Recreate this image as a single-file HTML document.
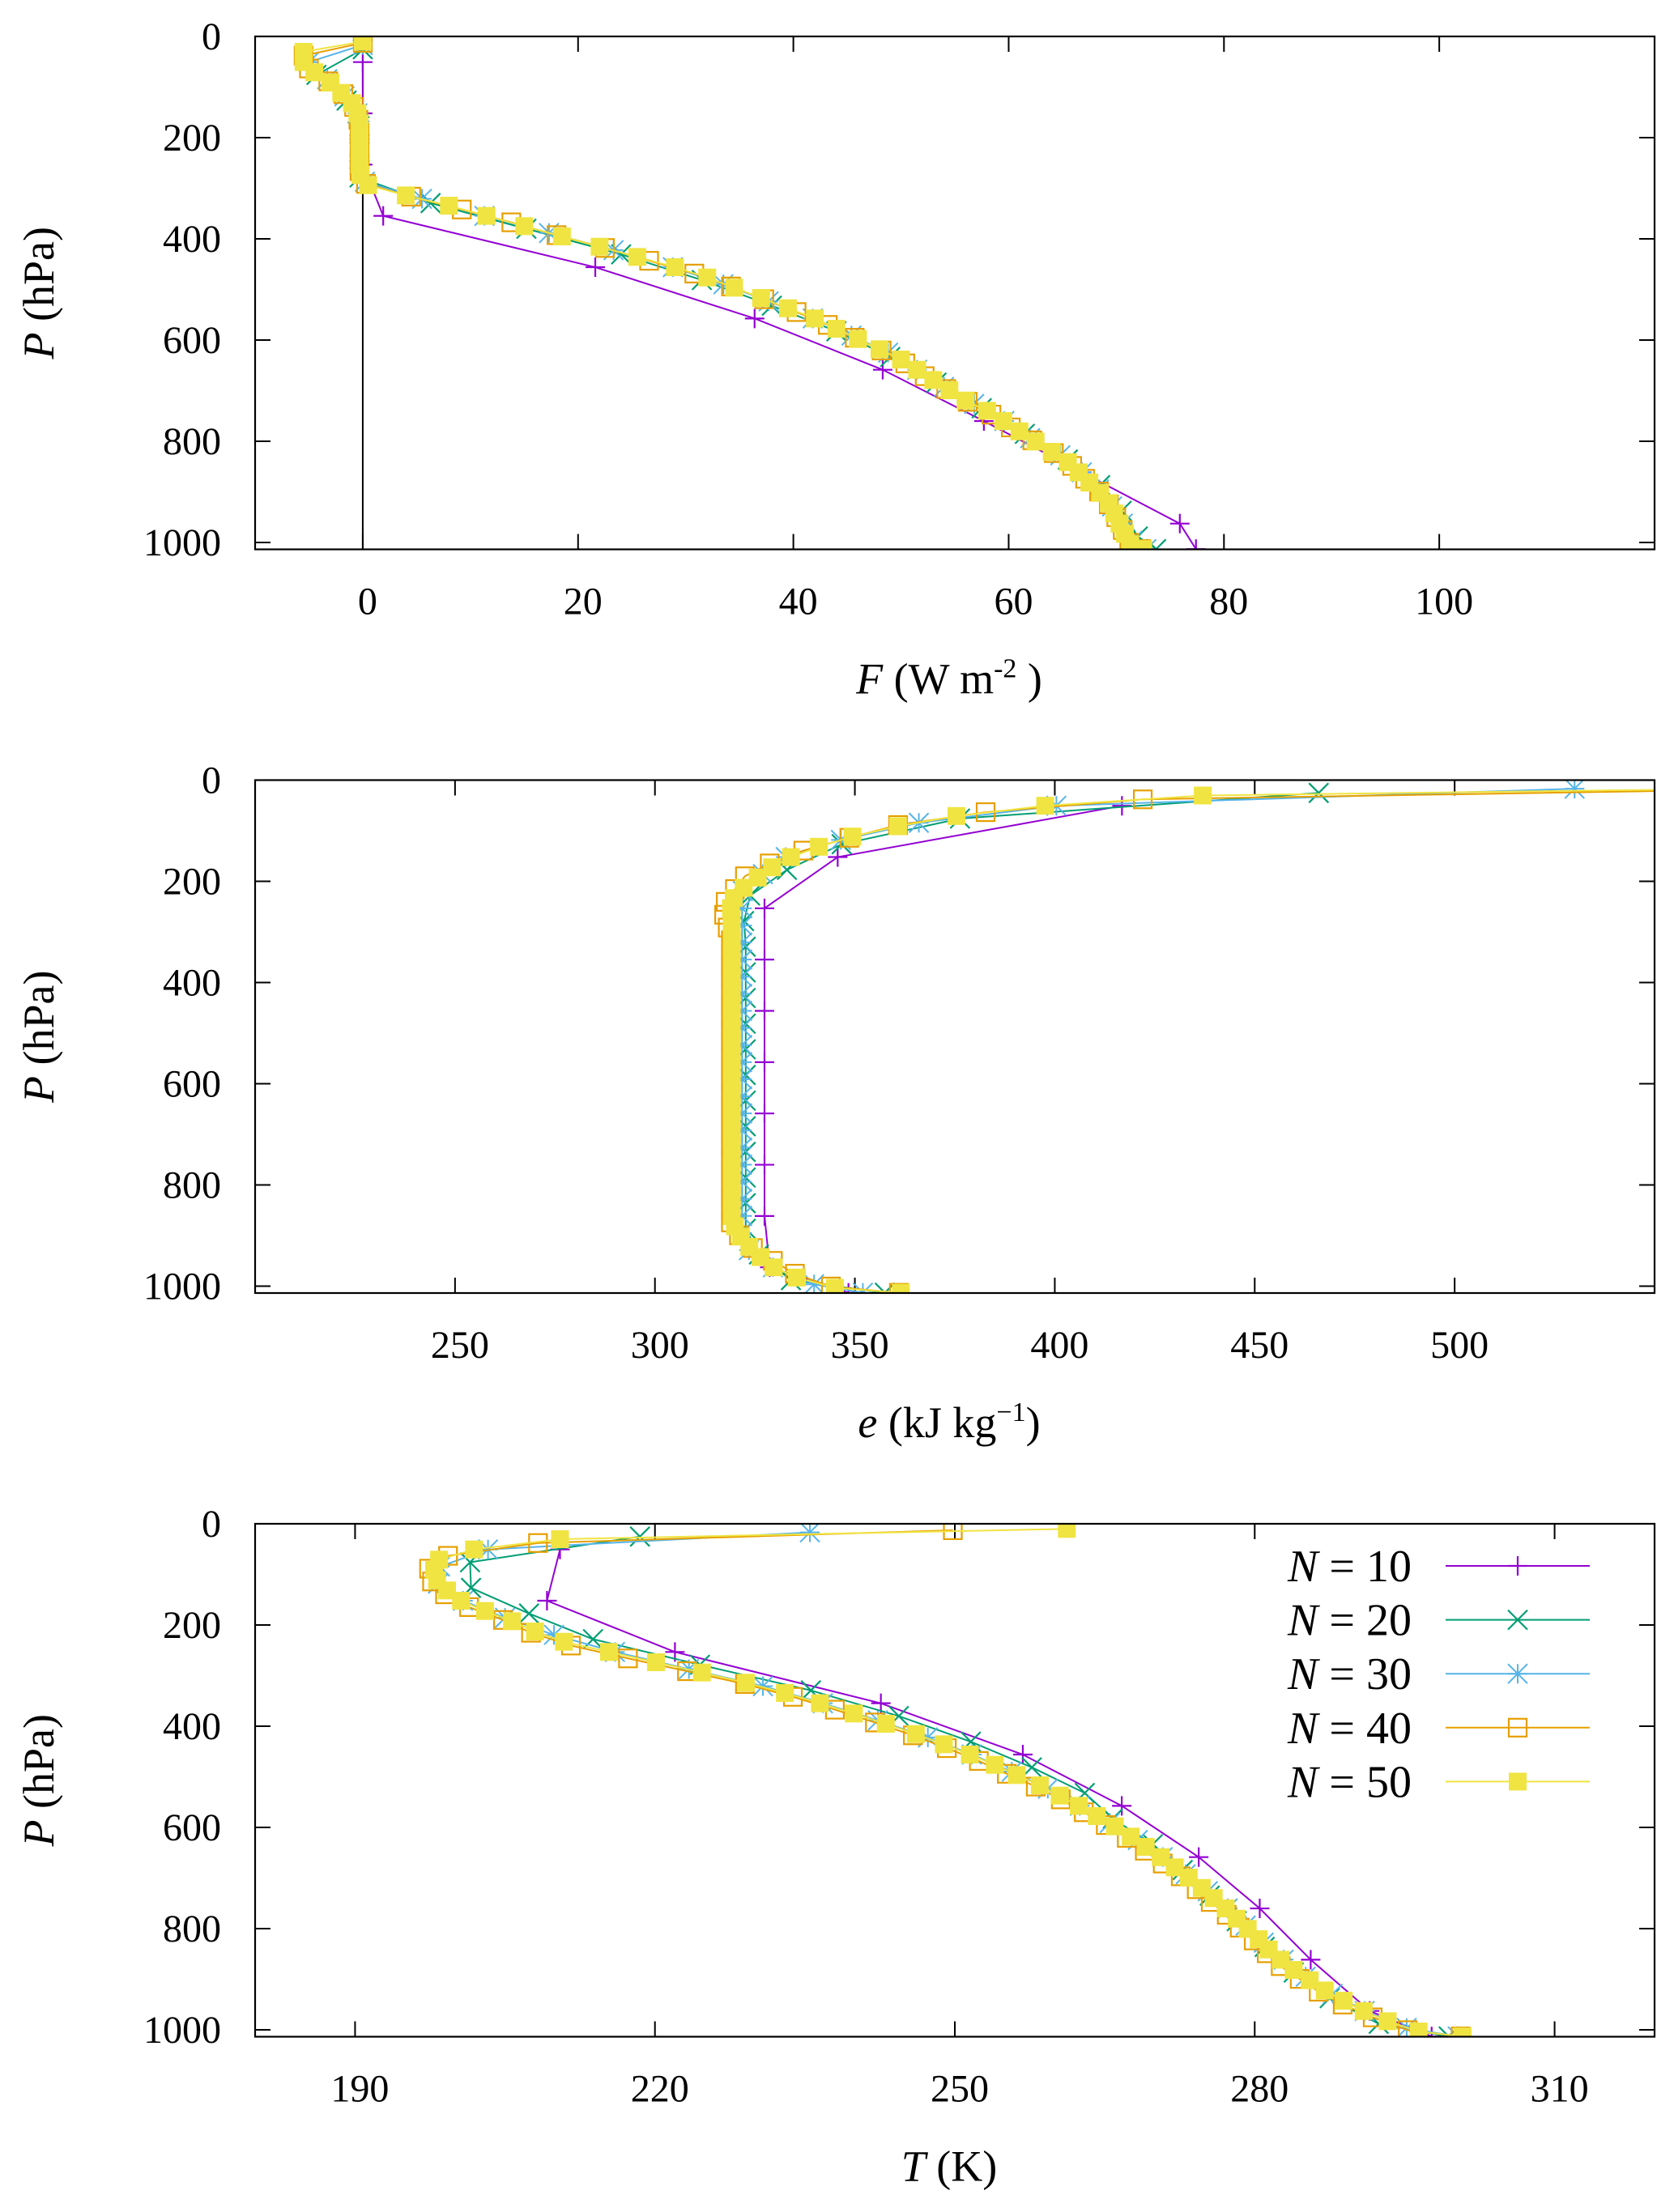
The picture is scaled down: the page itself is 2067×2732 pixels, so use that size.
<!DOCTYPE html>
<html><head><meta charset="utf-8"><style>
html,body{margin:0;padding:0;background:#fff;}
svg{display:block;}
text{font-family:"Liberation Serif",serif;fill:#000;}
</style></head><body>
<svg id="chart" xmlns="http://www.w3.org/2000/svg" width="2067" height="2732" viewBox="0 0 2067 2732">
<rect width="2067" height="2732" fill="#fff"/>
</svg>
<script>
// ---- pressure levels (hPa) ----
const p10 = [50.7,152,253.3,354.6,456,557.3,658.6,760,861.3,962.6,1013];
const p20 = [25.3,76,126.7,177.3,228,278.6,329.3,380,430.6,481.3,532,582.6,633.3,684,734.6,785.3,836,886.6,937.3,988,1013];
const p30 = [16.9,50.7,84.4,118.2,152,185.8,219.5,253.3,287.1,320.8,354.6,388.4,422.2,455.9,489.7,523.5,557.3,591,624.8,658.6,692.4,726.1,759.9,793.7,827.5,861.2,895,928.8,962.6,996.3,1013];
const p40 = [12.7,38,63.3,88.7,114,139.3,164.6,190,215.3,240.6,266,291.3,316.6,342,367.3,392.6,418,443.3,468.6,494,519.3,544.6,570,595.3,620.6,646,671.3,696.6,722,747.3,772.6,798,823.3,848.6,874,899.3,924.6,950,975.3,1000.6,1013];
const p50 = [10.1,30.4,50.7,70.9,91.2,111.5,131.7,152,172.3,192.5,212.8,233.1,253.3,273.6,293.9,314.1,334.4,354.6,374.9,395.2,415.5,435.7,456,476.3,496.5,516.8,537.1,557.3,577.6,597.9,618.1,638.4,658.7,678.9,699.2,719.5,739.7,760,780.3,800.5,820.8,841.1,861.3,881.6,901.9,922.1,942.4,962.7,982.9,1003.2,1013];

// ---- panel 1: F (W m-2) ----
const f10 = [0,0,0,1.9,21.6,36.4,48.3,57.7,66.8,75.9,77.4];
const f20 = [0,-4.3,-1.5,-0.3,-0.3,-0.3,6.3,15.2,24,31.5,38,44,49,53.3,57.5,61.5,65.5,68.5,70.5,72,73.7];
const f30 = [0,-5,-3.3,-1.7,-0.5,-0.3,-0.3,-0.3,0.2,5.5,11.3,17.3,23.3,28.8,33.5,37.7,41.8,45.4,48.8,51.5,54,56.8,59.6,62,64.8,66.8,68.4,69.6,70.6,71.5,72.8];
const f40 = [0,-5.5,-5,-3.2,-1.8,-0.8,-0.4,-0.3,-0.3,-0.3,-0.3,0.3,4.5,9.2,13.8,18,22.5,26.6,30.8,34.2,37.3,40.3,43.2,45.7,48.2,50.4,52.2,54.2,56.2,58.4,60.2,62.2,64.2,65.9,67.1,68.4,69.3,70,70.6,71.2,72.3];
const f50 = [0,-5.5,-5.5,-4.5,-3,-2,-1,-0.5,-0.3,-0.3,-0.3,-0.3,-0.3,-0.2,0.5,4,8,11.5,15,18.5,22,25.5,29,32,34.5,37,39.5,42,44,46,48,50,51.5,53,54.5,56,58,59.5,61,62.5,64,65.5,66.5,67.5,68.5,69.3,69.8,70.3,70.8,71.3,72.5];

// ---- panel 2: e (kJ kg-1) ----
const e10 = [416.8,345.7,327.4,327.4,327.4,327.4,327.4,327.4,327.4,328.7,348.4];
const e20 = [466,376.3,346.7,333,323.8,322.3,322.7,322.7,322.7,322.7,322.7,322.7,322.7,322.7,322.7,322.7,322.7,322.7,326,334,357.5];
const e30 = [530,400.4,366,346.5,332.7,327,322,321.8,321.8,321.8,321.8,321.8,321.8,321.8,321.8,321.8,321.8,321.8,321.8,321.8,321.8,321.8,321.8,321.8,321.8,321.8,321.8,323.5,329.5,339.8,352];
const e40 = [620,422,382.7,360.8,348.6,337.1,328.7,322.5,320,317.7,317.3,318.2,319,319,319,319,319,319,319,319,319,319,319,319,319,319,319,319,319,319,319,319,319,319,319,321,324.5,329.5,335,344,361];
const e50 = [640,437,397.6,375.4,360.8,349.4,341,334,329.3,325.7,322.2,319.7,319,319.2,319.2,319.2,319.2,319.2,319.2,319.2,319.2,319.2,319.2,319.2,319.2,319.2,319.2,319.2,319.2,319.2,319.2,319.2,319.2,319.2,319.2,319.2,319.2,319.2,319.2,319.2,319.2,319.2,319.2,320,321.5,323.6,326.4,329.7,335.5,345,361.5];

// ---- panel 3: T (K) ----
const t10 = [210.5,209.2,222,242.6,256.8,266.7,274.4,280.5,285.6,291.5,297.7];
const t20 = [218.5,201.5,201.6,207.4,213.8,224.5,235.6,244.4,251.6,257.7,263,265.8,269.8,272.8,275.5,278.2,281,283.9,287.5,292.4,299.4];
const t30 = [235.5,203.3,198.5,198.3,200.8,205,209.9,216,223.4,230.8,236.8,242.3,247.3,251.7,255.7,259.3,262.5,265.5,268.3,270.8,273.1,275.3,277.3,279.1,280.9,282.9,285.1,287.8,291,295.2,300.3];
const t40 = [249.8,208.3,199.3,197.4,197.7,199,201.4,204.8,207.6,211.6,217.3,223.2,229,233.8,238,242,245.8,249.2,252.4,255.2,258.1,260.6,262.9,265.1,267.2,269,270.8,272.6,274.2,275.6,277.2,278.5,279.9,281.2,282.6,284.5,286.4,288.8,291.8,295.3,300.6];
const t50 = [261.2,210.5,201.9,198.4,197.9,198.2,199.2,200.6,203,205.7,208,210.9,215.4,220.1,224.7,229.1,233,236.5,239.9,243.1,246.1,248.9,251.5,254,256.2,258.5,260.5,262.4,264.2,266,267.6,269.1,270.6,272,273.4,274.7,275.9,277.1,278.2,279.3,280.4,281.4,282.6,283.9,285.5,287,288.9,290.9,293.3,296.4,300.8];

const yTicks = [0,200,400,600,800,1000];
const xTicks1 = [0,20,40,60,80,100];
const xTicks2 = [250,300,350,400,450,500];
const xTicks3 = [190,220,250,280,310];
const seriesNames = ["N = 10","N = 20","N = 30","N = 40","N = 50"];
const seriesNums = ["10","20","30","40","50"];

const COLORS = ["#9400d3","#009e73","#56b4e9","#e69f00","#f0e442"];
const MARKERS = ["plus","cross","star","opensq","fillsq"];
const NS = "http://www.w3.org/2000/svg";
const svg = document.getElementById("chart");
function mk(tag, attrs, parent){
  const e = document.createElementNS(NS, tag);
  for (const k in attrs) e.setAttribute(k, attrs[k]);
  (parent||svg).appendChild(e);
  return e;
}
function marker(g, type, x, y, c){
  let m;
  const s = 12;
  if (type==="plus"){
    m = mk("path",{d:`M${x-s} ${y}H${x+s}M${x} ${y-s}V${y+s}`,stroke:c,"stroke-width":2.2,fill:"none"},g);
  } else if (type==="cross"){
    m = mk("path",{d:`M${x-s} ${y-s}L${x+s} ${y+s}M${x-s} ${y+s}L${x+s} ${y-s}`,stroke:c,"stroke-width":2.2,fill:"none"},g);
  } else if (type==="star"){
    m = mk("path",{d:`M${x-s} ${y}H${x+s}M${x} ${y-s}V${y+s}M${x-s} ${y-s}L${x+s} ${y+s}M${x-s} ${y+s}L${x+s} ${y-s}`,stroke:c,"stroke-width":2,fill:"none"},g);
  } else if (type==="opensq"){
    m = mk("rect",{x:x-11,y:y-11,width:22,height:22,stroke:c,"stroke-width":2.2,fill:"none"},g);
  } else {
    m = mk("rect",{x:x-11,y:y-11,width:22,height:22,fill:c},g);
  }
  
  
}

const L = 315, R = 2043;
function panel(idx, top, xmin, xmax, xticks, xs, ps, zeroLine, titleHTML, legend){
  const H = 633.5, bottom = top + H, PMAX = 1013.5;
  const sx = v => L + (v - xmin) / (xmax - xmin) * (R - L);
  const sy = p => top + p / PMAX * H;
  const g = mk("g",{});
  
  
  const cid = "clip" + idx;
  const cp = mk("clipPath",{id:cid},g);
  mk("rect",{x:L,y:top,width:R-L,height:H},cp);
  if (zeroLine){
    const z = mk("line",{x1:sx(0),x2:sx(0),y1:top,y2:bottom,stroke:"#000","stroke-width":2},g);
    
    
  }
  yTicks.forEach(p=>{
    const y = sy(p);
    const t = mk("path",{d:`M${L} ${y}h19M${R} ${y}h-19`,stroke:"#000","stroke-width":2},g);
    
    
    const tx = mk("text",{x:273,y:y+16,"font-size":48,"text-anchor":"end"},g);
    tx.textContent = p;
    
    
  });
  xticks.forEach(v=>{
    const x = sx(v);
    const t = mk("path",{d:`M${x} ${bottom}v-19M${x} ${top}v19`,stroke:"#000","stroke-width":2},g);
    
    
    const tx = mk("text",{x:x+6,y:bottom+80,"font-size":48,"text-anchor":"middle"},g);
    tx.textContent = v;
    
    
  });
  const sg = mk("g",{"clip-path":`url(#${cid})`},g);
  xs.forEach((arr, i)=>{
    const pts = arr.map((v,j)=>[sx(v), sy(ps[i][j])]);
    const pl = mk("polyline",{points:pts.map(q=>q.join(",")).join(" "),fill:"none",stroke:COLORS[i],"stroke-width":2},sg);
    
    
    const mg = mk("g",{},sg);
    
    
    pts.forEach(q=>marker(mg, MARKERS[i], q[0], q[1], COLORS[i]));
  });
  const fr = mk("rect",{x:L,y:top,width:R-L,height:H,fill:"none",stroke:"#000","stroke-width":2.2},g);
  
  
  const cy = top + H/2;
  const yt = mk("text",{x:0,y:0,"font-size":54,"text-anchor":"middle",transform:`translate(66 ${cy}) rotate(-90)`},g);
  yt.innerHTML = '<tspan font-style="italic">P</tspan> (hPa)';
  
  
  const xt = mk("text",{x:1172,y:bottom+178,"font-size":54,"text-anchor":"middle"},g);
  xt.innerHTML = titleHTML;
  
  
  if (legend){
    const lg = mk("g",{},g);
    
    
    seriesNames.forEach((nm,i)=>{
      const y = 1934 + i*66.6;
      const eg = mk("g",{},lg);
      
      
      const t = mk("text",{x:1743,y:y+19,"font-size":56,"text-anchor":"end"},eg);
      t.innerHTML = '<tspan font-style="italic">N</tspan> = ' + seriesNums[i];
      mk("line",{x1:1785,x2:1963,y1:y,y2:y,stroke:COLORS[i],"stroke-width":2},eg);
      marker(eg, MARKERS[i], 1874, y, COLORS[i]);
    });
  }
}
const P = [p10,p20,p30,p40,p50];
panel(1, 45, -10, 120, xTicks1, [f10,f20,f30,f40,f50], P, true,
  '<tspan font-style="italic">F</tspan>  (W  m<tspan dy="-20" font-size="34">-2</tspan><tspan dy="20"> )</tspan>', false);
panel(2, 963.5, 200, 550, xTicks2, [e10,e20,e30,e40,e50], P, false,
  '<tspan font-style="italic">e</tspan> (kJ kg<tspan dy="-20" font-size="34">−1</tspan><tspan dy="20">)</tspan>', false);
panel(3, 1882, 180, 320, xTicks3, [t10,t20,t30,t40,t50], P, false,
  '<tspan font-style="italic">T</tspan> (K)', true);
</script>
</body></html>
